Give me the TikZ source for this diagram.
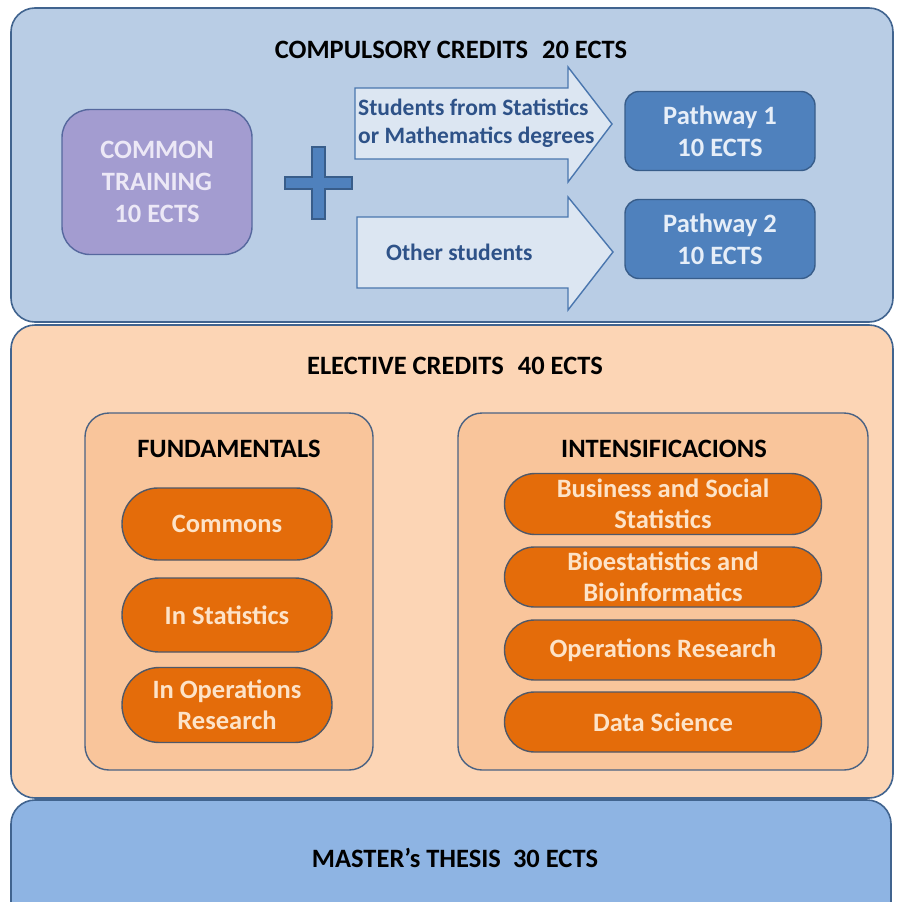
\documentclass[tikz,border=0pt]{standalone}
\usepackage{fontspec}
\setmainfont{Carlito}
\usetikzlibrary{shapes.misc}
\definecolor{topfill}{HTML}{B9CDE5}
\definecolor{topdraw}{HTML}{41648F}
\definecolor{purfill}{HTML}{A39CD0}
\definecolor{purdraw}{HTML}{56689E}
\definecolor{purtext}{HTML}{ECE8F6}
\definecolor{arrfill}{HTML}{DCE6F2}
\definecolor{arrdraw}{HTML}{4A76AE}
\definecolor{arrtext}{HTML}{2E5288}
\definecolor{pathfill}{HTML}{4F81BD}
\definecolor{pathdraw}{HTML}{385D8A}
\definecolor{pathtext}{HTML}{E6EEF8}
\definecolor{elfill}{HTML}{FCD5B5}
\definecolor{infill}{HTML}{F9C59B}
\definecolor{eldraw}{HTML}{4A6283}
\definecolor{pillfill}{HTML}{E46C0A}
\definecolor{pilldraw}{HTML}{4F5868}
\definecolor{pilltext}{HTML}{FDE3C8}
\definecolor{thfill}{HTML}{8EB4E3}
\tikzset{
  x=1pt, y=-1pt,
  section/.style={draw=#1, line width=1.6pt, rounded corners=24pt},
  title/.style={font=\fontsize{26.5}{30}\selectfont\bfseries, text=black},
  pill/.style={draw=pilldraw, fill=pillfill, line width=1.4pt, rounded rectangle, text=pilltext,
    font=\fontsize{26.5}{31}\selectfont\bfseries, align=center, inner sep=0pt},
  pathbox/.style={draw=pathdraw, fill=pathfill, line width=1.4pt, rounded corners=14pt,
    text=pathtext, font=\fontsize{26.5}{32}\selectfont\bfseries, align=center,
    minimum width=190pt, minimum height=79pt, inner sep=0pt},
  innerbox/.style={draw=eldraw, fill=infill, line width=1.4pt, rounded corners=24pt},
  arrowshape/.style={draw=arrdraw, fill=arrfill, line width=1.4pt},
  arrowtext/.style={text=arrtext, font=\fontsize{23.5}{28}\selectfont\bfseries, align=left, inner sep=0pt}
}
\begin{document}
\begin{tikzpicture}
\useasboundingbox (0,0) rectangle (897,902);
\clip (0,0) rectangle (897,902);
\fill[white] (0,0) rectangle (897,902);
% thesis
\draw[section=topdraw, fill=thfill] (11,800) rectangle (891,940);
\node[title] (thesis) at (455,858) {MASTER's THESIS\hspace{12pt}30 ECTS};
% elective
\draw[section=topdraw, fill=elfill] (11,325) rectangle (893,798);
\node[title] (elect) at (455,366) {ELECTIVE CREDITS\hspace{14pt}40 ECTS};
% compulsory
\draw[section=topdraw, fill=topfill] (11,8) rectangle (893,322);
\node[title] (comp) at (451,50) {COMPULSORY CREDITS\hspace{14pt}20 ECTS};
% common training
\node[draw=purdraw, fill=purfill, line width=1.4pt, rounded corners=28pt, minimum width=190pt,
  minimum height=145pt, text=purtext, font=\fontsize{26.5}{32}\selectfont\bfseries, align=center]
  (common) at (157,182) {COMMON\\TRAINING\\10 ECTS};
% plus
\draw[draw=pathdraw, fill=pathfill, line width=1.2pt]
  (312,147) -- (325,147) -- (325,177) -- (352,177) -- (352,189) -- (325,189) -- (325,219)
  -- (312,219) -- (312,189) -- (285,189) -- (285,177) -- (312,177) -- cycle;
\coordinate (plus) at (318,183);
% arrows
\draw[arrowshape] (355,88) -- (568,88) -- (568,67) -- (612,124) -- (568,182) -- (568,159) -- (355,159) -- cycle;
\node[arrowtext, anchor=west] (a1) at (358,123) {Students from Statistics\\or Mathematics degrees};
\draw[arrowshape] (357,217) -- (568,217) -- (568,197) -- (613,252) -- (568,310) -- (568,288) -- (357,288) -- cycle;
\node[arrowtext, anchor=west] (a2) at (386,252) {Other students};
% pathways
\node[pathbox] (p1) at (720,131) {Pathway 1\\10 ECTS};
\node[pathbox] (p2) at (720,239) {Pathway 2\\10 ECTS};
% fundamentals
\draw[innerbox] (85,413) rectangle (373,770);
\node[title] (fund) at (229,449) {FUNDAMENTALS};
\node[pill, minimum width=210pt, minimum height=72pt] (c1) at (227,524) {Commons};
\node[pill, minimum width=210pt, minimum height=74pt] (c2) at (227,615) {In Statistics};
\node[pill, minimum width=210pt, minimum height=75pt] (c3) at (227,705) {In Operations\\Research};
% intensificacions
\draw[innerbox] (458,413) rectangle (868,770);
\node[title] (intens) at (664,449) {INTENSIFICACIONS};
\node[pill, minimum width=317pt, minimum height=61pt] (i1) at (663,504) {Business and Social\\Statistics};
\node[pill, minimum width=317pt, minimum height=60pt] (i2) at (663,577) {Bioestatistics and\\Bioinformatics};
\node[pill, minimum width=317pt, minimum height=60pt] (i3) at (663,650) {Operations Research};
\node[pill, minimum width=317pt, minimum height=60pt] (i4) at (663,722) {Data Science};
\end{tikzpicture}
\end{document}
